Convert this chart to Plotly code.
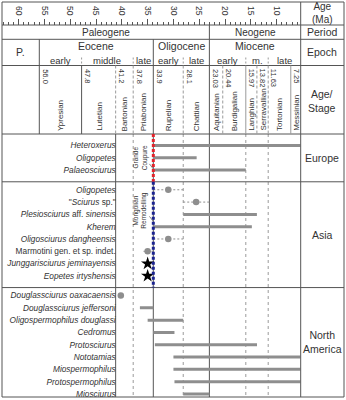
import plotly.graph_objects as go

W, H = 346, 400
FONT = "Liberation Sans, Arial, sans-serif"
TXT = "#333333"
DARK = "#555555"
GRID = "#9a9a9a"
BAR = "#8e8e8e"

# ---------------- data ----------------
taxa = ["<i>Heteroxerus</i>", "<i>Oligopetes</i>", "<i>Palaeosciurus</i>",
        "<i>Oligopetes</i>", "\"<i>Sciurus</i> sp.\"",
        "<i>Plesiosciurus</i> aff. <i>sinensis</i>", "<i>Kherem</i>",
        "<i>Oligosciurus dangheensis</i>", "Marmotini gen. et sp. indet.",
        "<i>Junggarisciurus jeminayensis</i>", "<i>Eopetes irtyshensis</i>",
        "<i>Douglassciurus oaxacaensis</i>", "<i>Douglassciurus jeffersoni</i>",
        "<i>Oligospermophilus douglassi</i>", "<i>Cedromus</i>", "<i>Protosciurus</i>",
        "<i>Nototamias</i>", "<i>Miospermophilus</i>", "<i>Protospermophilus</i>",
        "<i>Miosciurus</i>"]
region = ["Europe"] * 3 + ["Asia"] * 8 + ["North America"] * 9
regions = ["Europe", "Asia", "North America"]
region_labels = ["Europe", "Asia", "North<br>America"]

range_old = [33.9, 33.9, 33.9, None, None, 28.1, 33.9, None, None, None, None,
             None, 36.5, 35.0, 33.9, 33.6, 30.0, 30.0, 29.8, 28.1]
range_young = [5.33, 25.5, 15.97, None, None, 13.82, 14.8, None, None, None, None,
               None, 33.9, 28.1, 29.8, 13.8, 5.33, 5.33, 5.33, 23.03]
est_old = [None, None, None, 33.9, 28.1, None, None, 33.9, 35.8, None, None,
           None, None, None, None, None, None, None, None, None]
est_young = [None, None, None, 28.1, 23.03, None, None, 28.1, 33.9, None, None,
             None, None, None, None, None, None, None, None, None]
point_age = [None, None, None, 31.0, 25.6, None, None, 31.0, 35.0, None, None,
             40.2, None, None, None, None, None, None, None, None]
star_age = [None, None, None, None, None, None, None, None, None, 35.0, 35.0,
            None, None, None, None, None, None, None, None, None]

ruler_ticks = [60, 55, 50, 45, 40, 35, 30, 25, 20, 15, 10]
ruler_labels = [str(t) for t in ruler_ticks]

period_names = ["Paleogene", "Neogene"]
period_start = [66.0, 23.03]
period_end = [23.03, 5.33]

epoch_names = ["P.", "Eocene", "Oligocene", "Miocene"]
epoch_start = [66.0, 56.0, 33.9, 23.03]
epoch_end = [56.0, 33.9, 23.03, 5.33]

sub_names = ["early", "middle", "late", "early", "late", "early", "m.", "late"]
sub_start = [56.0, 47.8, 37.8, 33.9, 28.1, 23.03, 15.97, 11.63]
sub_end = [47.8, 37.8, 33.9, 28.1, 23.03, 15.97, 11.63, 5.33]

stage_names = ["Ypresian", "Lutetian", "Bartonian", "Priabonian", "Rupelian",
               "Chattian", "Aquitanian", "Burdigalian", "Langhian", "Serravallian",
               "Tortonian", "Messinian"]
stage_start = [56.0, 47.8, 41.2, 37.8, 33.9, 28.1, 23.03, 20.44, 15.97, 13.82, 11.63, 7.25]
stage_labels = ["56.0", "47.8", "41.2", "37.8", "33.9", "28.1", "23.03", "20.44",
                "15.97", "13.82", "11.63", "7.25"]
stage_end = stage_start[1:] + [5.33]

body_lines = [41.2, 37.8, 33.9, 28.1, 23.03, 15.97, 11.63]

events = ["Grande<br>Coupure", "Mongolian<br>Remodelling"]
event_age = [33.9, 33.9]
event_region = ["Europe", "Asia"]
event_color = ["#e3232b", "#1b2390"]

# ---------------- layout geometry (pixels) ----------------
AGE_LEFT, AGE_RIGHT = 63.23, 5.33
X0_PX, X1_PX, XR_PX = 2.0, 300.7, 344.0
Y_TOP, Y_RULER, Y_PERIOD, Y_EPOCH, Y_STAGE, Y_BOTTOM = 2.0, 25.0, 39.3, 65.5, 134.0, 397.0
ROW0_PX, ROW_PX, GAP = 145.5, 12.3, 0.6
EVENT_TEXT_FRAC = [0.5, 0.27]   # vertical placement of event labels in their section


def px2py(p):
    return 1 - p / H


def slot_to_px(s):
    return ROW0_PX + ROW_PX * s


sec_idx = [regions.index(r) for r in region]
slots = [i + GAP * s for i, s in enumerate(sec_idx)]

# section borders in pixels
sec_bounds = [Y_STAGE]
for k in range(1, len(regions)):
    last = max(sl for sl, s in zip(slots, sec_idx) if s == k - 1)
    first = min(sl for sl, s in zip(slots, sec_idx) if s == k)
    sec_bounds.append(slot_to_px((last + first) / 2 + 0.15))
sec_bounds.append(Y_BOTTOM)

shapes = []
annotations = []


def hline(p, color=DARK, width=1):
    shapes.append(dict(type="line", xref="paper", yref="paper", x0=X0_PX / W, x1=XR_PX / W,
                       y0=px2py(p), y1=px2py(p), line=dict(color=color, width=width)))


def vline(age, p0, p1, color=DARK, dash="solid", width=1, layer="above"):
    shapes.append(dict(type="line", xref="x", yref="paper", x0=age, x1=age,
                       y0=px2py(p0), y1=px2py(p1), layer=layer,
                       line=dict(color=color, width=width, dash=dash)))


def ann(text, x, y, xref="x", size=10, angle=0, xanchor="center", yanchor="middle",
        xshift=0, color=TXT):
    annotations.append(dict(text=text, x=x, y=y, xref=xref, yref="paper", showarrow=False,
                            textangle=angle, xanchor=xanchor, yanchor=yanchor, xshift=xshift,
                            font=dict(family=FONT, size=size, color=color)))


# frame & horizontal separators
shapes.append(dict(type="rect", xref="paper", yref="paper", x0=X0_PX / W, x1=XR_PX / W,
                   y0=px2py(Y_BOTTOM), y1=px2py(Y_TOP), line=dict(color=DARK, width=1)))
for p in [Y_RULER, Y_PERIOD, Y_EPOCH, Y_STAGE] + sec_bounds[1:-1]:
    hline(p)
# right column border
shapes.append(dict(type="line", xref="paper", yref="paper", x0=X1_PX / W, x1=X1_PX / W,
                   y0=px2py(Y_BOTTOM), y1=px2py(Y_TOP), line=dict(color=DARK, width=1)))

# period row
for name, a, b in zip(period_names, period_start, period_end):
    a = min(a, AGE_LEFT)
    if b > AGE_RIGHT:
        vline(b, Y_RULER, Y_PERIOD)
    ann(name, (a + b) / 2, px2py((Y_RULER + Y_PERIOD) / 2), size=10)

# epoch row
for name, a, b in zip(epoch_names, epoch_start, epoch_end):
    a = min(a, AGE_LEFT)
    if b > AGE_RIGHT:
        vline(b, Y_PERIOD, Y_STAGE if b in stage_start else Y_EPOCH)
    if name == "P.":
        ann(name, (a + b) / 2, px2py((Y_PERIOD + Y_EPOCH) / 2), size=10.5)
    else:
        ann(name, (a + b) / 2, px2py(46.5), size=10.5)
for name, a, b in zip(sub_names, sub_start, sub_end):
    if a not in epoch_start:
        vline(a, Y_EPOCH - 8, Y_EPOCH, color=GRID, dash="2px,2px")
    ann(name, (a + b) / 2, px2py(60.3), size=9.5)

# stage row
stage_style = {56.0: (DARK, "solid"), 47.8: (DARK, "solid"), 33.9: (DARK, "solid"),
               23.03: (DARK, "solid"), 15.97: (GRID, "solid"), 7.25: (GRID, "solid")}
for name, lab, a, b in zip(stage_names, stage_labels, stage_start, stage_end):
    col, dsh = stage_style.get(a, (GRID, "3px,2px"))
    if a not in epoch_start:
        vline(a, Y_EPOCH, Y_STAGE, color=col, dash=dsh)
    ann(lab, a, px2py(Y_EPOCH + 1.5), size=7.5, angle=90, xanchor="left", yanchor="top",
        xshift=-0.5)
    ann(name, (a + b) / 2, px2py(Y_STAGE - 1), size=8, angle=-90, yanchor="bottom")

# body vertical lines
for a in body_lines:
    if a in (41.2, 33.9, 23.03):
        vline(a, Y_STAGE, Y_BOTTOM, color=DARK, layer="below")
    else:
        vline(a, Y_STAGE, Y_BOTTOM, color=GRID, dash="3px,3px", layer="below")

# event lines (Grande Coupure / Mongolian Remodelling)
for txt, a, reg, col, frac in zip(events, event_age, event_region, event_color,
                                  EVENT_TEXT_FRAC):
    k = regions.index(reg)
    top, bot = sec_bounds[k], sec_bounds[k + 1]
    vline(a, top, bot, color=col, dash="3px,2px", width=3)
    mid = top + (bot - top) * frac
    ann(txt, a, px2py(mid), size=6.5, angle=-90, xanchor="right", xshift=-3)
    shapes.append(dict(type="line", xref="x", yref="paper", x0=a + 0.75, x1=a,
                       y0=px2py(mid + 6), y1=px2py(mid + 11),
                       line=dict(color="#666666", width=0.8)))

# right column labels
RC = (X1_PX + XR_PX) / 2 / W
ann("Age<br>(Ma)", RC, px2py((Y_TOP + Y_RULER) / 2), xref="paper", size=10)
ann("Period", RC, px2py((Y_RULER + Y_PERIOD) / 2), xref="paper", size=10.5)
ann("Epoch", RC, px2py((Y_PERIOD + Y_EPOCH) / 2), xref="paper", size=10.5)
ann("Age/<br>Stage", RC, px2py(101), xref="paper", size=10.5)
for k, lab in enumerate(region_labels):
    ann(lab, RC, px2py((sec_bounds[k] + sec_bounds[k + 1]) / 2), xref="paper", size=10.5)

# ---------------- traces ----------------
fig = go.Figure()

bx, by = [], []
for o, y_, s in zip(range_old, range_young, slots):
    if o is not None:
        bx += [o, y_, None]
        by += [s, s, None]
fig.add_trace(go.Scatter(x=bx, y=by, mode="lines", line=dict(color=BAR, width=3),
                         hoverinfo="skip", showlegend=False))

ex, ey = [], []
for o, y_, s in zip(est_old, est_young, slots):
    if o is not None:
        ex += [o, y_, None]
        ey += [s, s, None]
fig.add_trace(go.Scatter(x=ex, y=ey, mode="lines",
                         line=dict(color=BAR, width=1, dash="2px,2px"),
                         hoverinfo="skip", showlegend=False))

px_, py_ = zip(*[(a, s) for a, s in zip(point_age, slots) if a is not None])
fig.add_trace(go.Scatter(x=list(px_), y=list(py_), mode="markers",
                         marker=dict(color=BAR, size=6.5), hoverinfo="skip", showlegend=False))

sx_, sy_ = zip(*[(a, s) for a, s in zip(star_age, slots) if a is not None])
fig.add_trace(go.Scatter(x=list(sx_), y=list(sy_), mode="markers",
                         marker=dict(color="black", size=10, symbol="star"),
                         hoverinfo="skip", showlegend=False))

fig.update_layout(
    width=W, height=H, margin=dict(l=0, r=0, t=0, b=0),
    paper_bgcolor="white", plot_bgcolor="rgba(0,0,0,0)",
    showlegend=False,
    font=dict(family=FONT, color=TXT),
    xaxis=dict(domain=[X0_PX / W, X1_PX / W], range=[AGE_LEFT, AGE_RIGHT],
               anchor="free", position=px2py(Y_RULER), side="top",
               showgrid=False, zeroline=False, showline=False,
               tickmode="array", tickvals=ruler_ticks, ticktext=ruler_labels,
               ticks="outside", ticklen=6.5, tickwidth=1, tickcolor=DARK,
               tickangle=90, tickfont=dict(family=FONT, size=8.5, color=TXT),
               minor=dict(dtick=1, tick0=0, ticks="outside", ticklen=3.3,
                          tickwidth=1, tickcolor=DARK),
               automargin=False, fixedrange=True),
    yaxis=dict(domain=[0, 1], range=[(H - ROW0_PX) / ROW_PX, -ROW0_PX / ROW_PX],
               anchor="free", position=115.7 / W, side="left",
               showgrid=False, zeroline=False, showline=False, ticks="",
               tickmode="array", tickvals=slots, ticktext=taxa,
               tickfont=dict(family=FONT, size=8.3, color=TXT),
               automargin=False, fixedrange=True),
    shapes=shapes, annotations=annotations,
)

fig.write_html("out.html", config={"displayModeBar": False},
               post_script="document.body.style.margin='0';"
                           "document.body.style.overflow='hidden';")
